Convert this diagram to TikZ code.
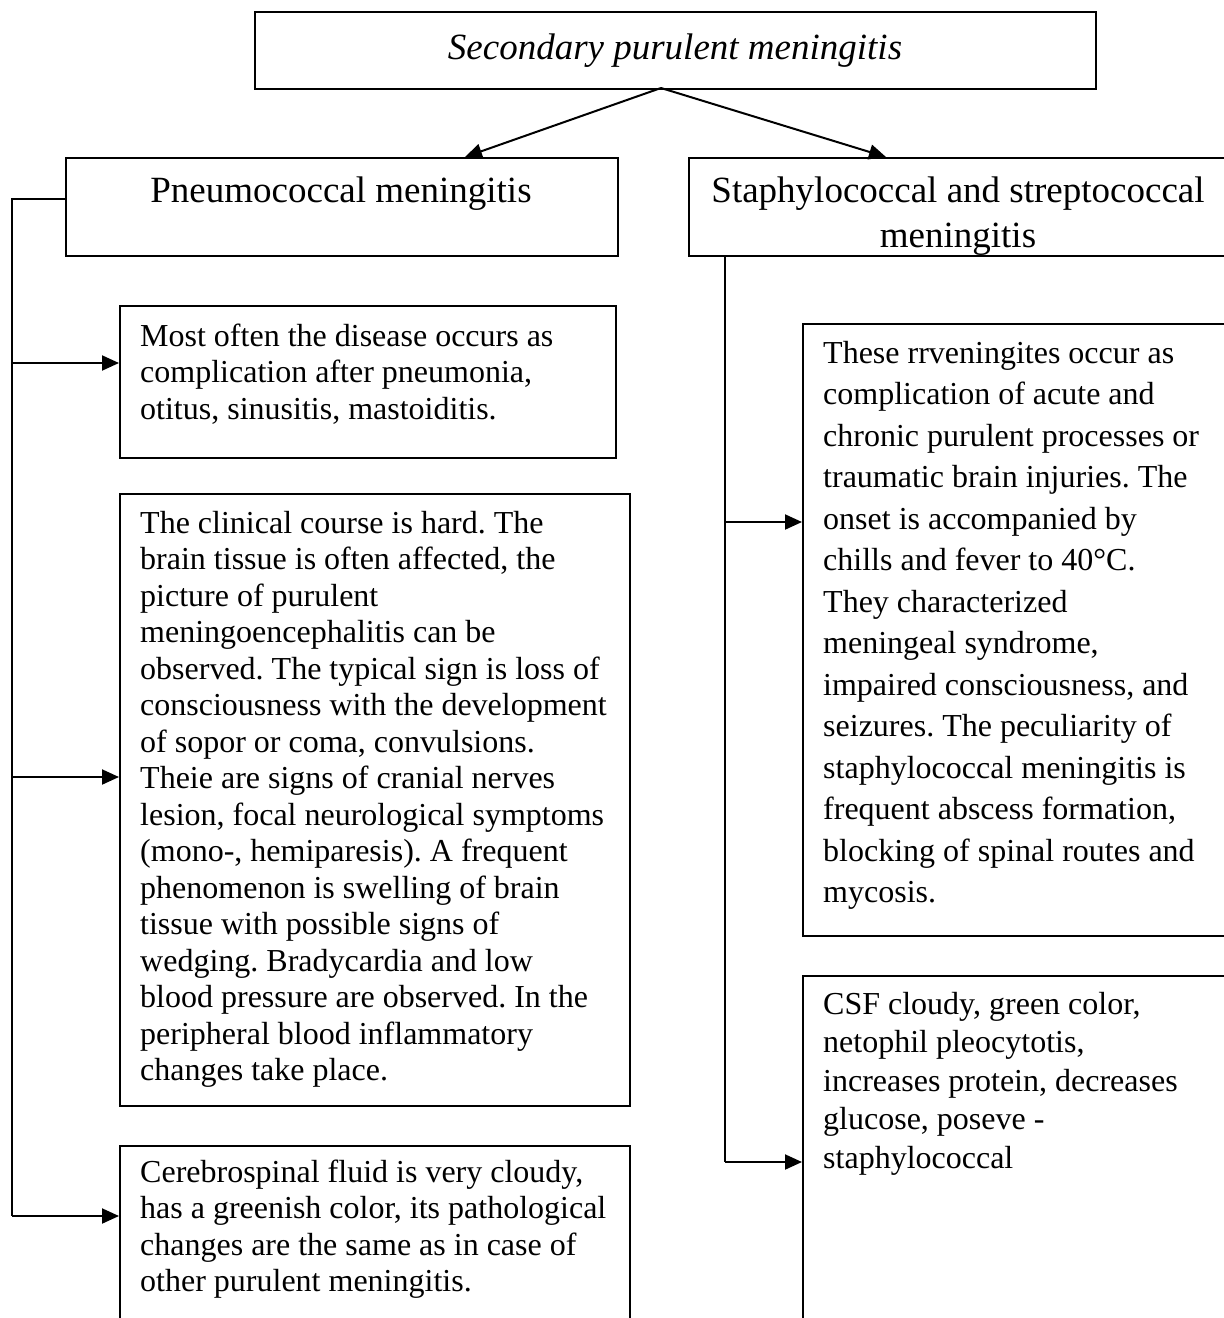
\documentclass[tikz,border=0pt]{standalone}
\usepackage{fontspec}
\setmainfont{Liberation Serif}
\usetikzlibrary{arrows.meta}
\frenchspacing
\begin{document}
\begin{tikzpicture}[x=1pt,y=-1pt,
  box/.style={draw, line width=1.5pt, rectangle, inner sep=0pt, anchor=north west},
  head/.style={font=\fontsize{37}{42}\selectfont, inner sep=0pt, align=center},
  body/.style={font=\fontsize{32}{36.5}\selectfont, inner sep=0pt, align=left, anchor=north west},
  bodywide/.style={font=\fontsize{32}{41.5}\selectfont, inner sep=0pt, align=left, anchor=north west},
  bodymid/.style={font=\fontsize{32}{38.5}\selectfont, inner sep=0pt, align=left, anchor=north west},
  wire/.style={line width=2pt},
  arr/.style={line width=2pt, -{Triangle[length=17pt,width=15pt]}}]
\useasboundingbox (0,0) rectangle (1224,1318);
\clip (0,0) rectangle (1224,1318);

% boxes
\node[box, minimum width=841pt, minimum height=77pt] (title) at (254,11) {};
\node[box, minimum width=552pt, minimum height=98pt] (pneu) at (65,157) {};
\node[box, minimum width=545pt, minimum height=98pt] (staph) at (688,157) {};
\node[box, minimum width=496pt, minimum height=152pt] (b1) at (119,305) {};
\node[box, minimum width=510pt, minimum height=612pt] (b2) at (119,493) {};
\node[box, minimum width=510pt, minimum height=200pt] (b3) at (119,1145) {};
\node[box, minimum width=430pt, minimum height=612pt] (r1) at (802,323) {};
\node[box, minimum width=430pt, minimum height=400pt] (r2) at (802,975) {};

% headings
\node[head, anchor=base] (titletext) at (675,59) {\itshape Secondary purulent meningitis};
\node[head, anchor=base] (pneutext) at (341,202) {Pneumococcal meningitis};
\begin{scope}
  \clip (688,157) rectangle (1233,254);
  \node[head, anchor=north, font=\fontsize{37}{45}\selectfont] (staphtext) at (958,171) {\strut Staphylococcal and streptococcal\\meningitis};
\end{scope}

% text of the boxes
\node[body] (t1) at (140,320.5) {\strut Most often the disease occurs as\\
complication after pneumonia,\\
otitus, sinusitis, mastoiditis.};
\node[body] (t2) at (140,507.5) {\strut The clinical course is hard. The\\
brain tissue is often affected, the\\
picture of purulent\\
meningoencephalitis can be\\
observed. The typical sign is loss of\\
consciousness with the development\\
of sopor or coma, convulsions.\\
Theie are signs of cranial nerves\\
lesion, focal neurological symptoms\\
(mono-, hemiparesis). A frequent\\
phenomenon is swelling of brain\\
tissue with possible signs of\\
wedging. Bradycardia and low\\
blood pressure are observed. In the\\
peripheral blood inflammatory\\
changes take place.};
\node[body] (t3) at (140,1156.5) {\strut Cerebrospinal fluid is very cloudy,\\
has a greenish color, its pathological\\
changes are the same as in case of\\
other purulent meningitis.};
\node[bodywide] (t4) at (823,334) {\strut These rrveningites occur as\\
complication of acute and\\
chronic purulent processes or\\
traumatic brain injuries. The\\
onset is accompanied by\\
chills and fever to 40°C.\\
They characterized\\
meningeal syndrome,\\
impaired consciousness, and\\
seizures. The peculiarity of\\
staphylococcal meningitis is\\
frequent abscess formation,\\
blocking of spinal routes and\\
mycosis.};
\node[bodymid] (t5) at (823,987) {\strut CSF cloudy, green color,\\
netophil pleocytotis,\\
increases protein, decreases\\
glucose, poseve -\\
staphylococcal};

% connectors from the title
\coordinate (apex) at (661,88);
\coordinate (pneutop) at (465,157);
\coordinate (staphtop) at (886,157);
\draw[arr] (apex) -- (pneutop);
\draw[arr] (apex) -- (staphtop);

% left branch
\coordinate (ljoin) at (65,199);
\coordinate (lbus) at (12,199);
\coordinate (la1) at (12,363);
\coordinate (la2) at (12,777);
\coordinate (la3) at (12,1216);
\draw[wire] (ljoin) -- (lbus) -- (la3);
\draw[arr] (la1) -- (la1 -| b1.west);
\draw[arr] (la2) -- (la2 -| b2.west);
\draw[arr] (la3) -- (la3 -| b3.west);

% right branch
\coordinate (rtop) at (725,255);
\coordinate (ra1) at (725,522);
\coordinate (ra2) at (725,1162);
\draw[wire] (rtop) -- (ra2);
\draw[arr] (ra1) -- (ra1 -| r1.west);
\draw[arr] (ra2) -- (ra2 -| r2.west);
\end{tikzpicture}
\end{document}
